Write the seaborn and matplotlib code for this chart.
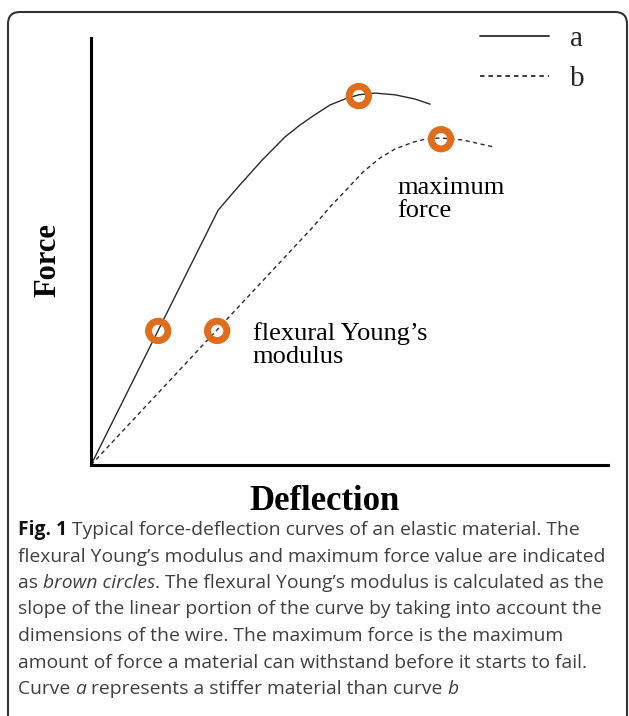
import seaborn as sns
import matplotlib.pyplot as plt
from matplotlib.patches import FancyBboxPatch
from matplotlib.lines import Line2D
from matplotlib.transforms import IdentityTransform

# curve a (stiffer material) (arbitrary units 0-100)
defl_a = [0, 24.6, 28.8, 33.1, 37.5, 40.4, 42.9, 46.2, 49.5, 51.8, 54.9, 58.8, 62.7, 65.6]
force_a = [0, 59.7, 65.6, 71.4, 76.8, 79.6, 81.7, 84.3, 85.9, 86.7, 87.1, 86.7, 85.7, 84.5]

# curve b (less stiff)
defl_b = [0, 42.9, 46.2, 49.5, 52.6, 55.9, 58.8, 62.3, 64.6, 67.5, 72.0, 77.8]
force_b = [0, 55.7, 60.4, 64.6, 68.6, 71.9, 74.0, 75.6, 76.3, 76.6, 76.1, 74.5]

# brown circles: flexural modulus and maximum force on each curve
circle_x = [13.0, 51.8, 24.4, 67.7]
circle_y = [31.4, 86.4, 31.4, 76.3]

legend_labels = ["a", "b"]

caption_lines = [
    [("Fig. 1", "bold"), (" Typical force-deflection curves of an elastic material. The", "normal")],
    [("flexural Young\u2019s modulus and maximum force value are indicated", "normal")],
    [("as ", "normal"), ("brown circles", "italic"), (". The flexural Young\u2019s modulus is calculated as the", "normal")],
    [("slope of the linear portion of the curve by taking into account the", "normal")],
    [("dimensions of the wire. The maximum force is the maximum", "normal")],
    [("amount of force a material can withstand before it starts to fail.", "normal")],
    [("Curve ", "normal"), ("a", "italic"), (" represents a stiffer material than curve ", "normal"), ("b", "italic")],
]

orange = "#DF6D1B"
line_col = "#2b2b2b"

sns.set_theme(style="white")
plt.rcParams["font.family"] = ["Liberation Serif", "DejaVu Serif"]

W, H = 629, 716
fig = plt.figure(figsize=(W / 100, H / 100), dpi=100)
ax = fig.add_axes([91 / W, (H - 465) / H, (608 - 91) / W, (465 - 38) / H])

sns.lineplot(x=defl_a, y=force_a, ax=ax, color=line_col, linewidth=1.0,
             sort=False, estimator=None)
sns.lineplot(x=defl_b, y=force_b, ax=ax, color=line_col, linewidth=1.0,
             sort=False, estimator=None, linestyle=(0, (3, 2.5)))
sns.scatterplot(x=circle_x, y=circle_y, ax=ax, s=195, marker="o",
                facecolors="none", edgecolors=orange, linewidth=5.0, zorder=5)

ax.set_xlim(0, 100)
ax.set_ylim(0, 100)
ax.set_xticks([])
ax.set_yticks([])
sns.despine(ax=ax)
for s in ["left", "bottom"]:
    ax.spines[s].set_color("black")
    ax.spines[s].set_linewidth(2.2)

ax.text(59.2, 62.1, "maximum\nforce", fontsize=19, va="center", ha="left",
        color="black", linespacing=1.05)
ax.text(31.3, 28.1, "flexural Young\u2019s\nmodulus", fontsize=19, va="center",
        ha="left", color="black", linespacing=1.05)

fig.text(48 / W, 1 - 260 / H, "Force", fontsize=22, fontweight="bold",
         rotation=90, ha="center", va="center", color="black")
fig.text(325 / W, 1 - 502 / H, "Deflection", fontsize=25, fontweight="bold",
         ha="center", va="center", color="black")

# legend
handles = [Line2D([], [], color=line_col, lw=1.3),
           Line2D([], [], color=line_col, lw=1.3, linestyle=(0, (2.5, 2.2)))]
fig.legend(handles, legend_labels, loc="upper left", frameon=False,
           bbox_to_anchor=(480 / W, 1 - 26 / H), fontsize=21,
           handlelength=2.35, handletextpad=0.75, labelspacing=0.45,
           borderpad=0, borderaxespad=0)

# panel frame
frame = FancyBboxPatch((8, -30), 619, H - 12 + 30, boxstyle="round,pad=0,rounding_size=12",
                       transform=IdentityTransform(), fill=False,
                       edgecolor="#333333", linewidth=1.5)
fig.patches.append(frame)

# caption with mixed styles
renderer = fig.canvas.get_renderer()
y0, dy = 530, 26.5
for i, runs in enumerate(caption_lines):
    x = 18
    for txt, style in runs:
        t = fig.text(x / W, 1 - (y0 + i * dy) / H, txt, fontsize=13.9,
                     family=["Open Sans", "DejaVu Sans"], va="center", ha="left",
                     fontweight="bold" if style == "bold" else "normal",
                     fontstyle="italic" if style == "italic" else "normal",
                     color="#111111" if style == "bold" else "#404040")
        x += t.get_window_extent(renderer).width

fig.savefig("out.png", dpi=100)
